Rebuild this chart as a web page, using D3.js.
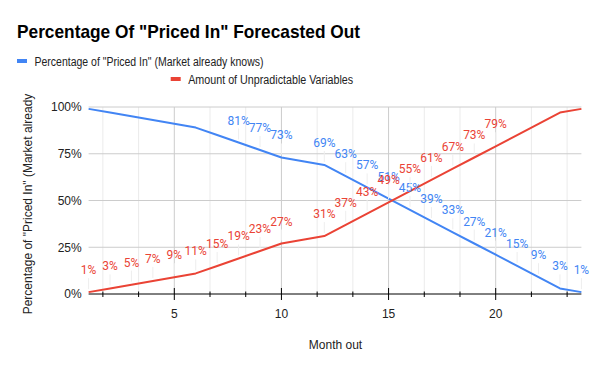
<!doctype html>
<html lang="en">
<head>
    <meta http-equiv="content-type" content="text/html; charset=utf-8" />
    <title>Percentage Of "Priced In" Forecasted Out</title>
    <style>
        body { margin: 0; background: #fff; }
        svg { display: block; font-family: Arial, "Liberation Sans", sans-serif; }
    </style>
</head>
<body>
    <svg id="chart"></svg>

    <script src="https://cdn.jsdelivr.net/npm/d3@7/dist/d3.min.js"></script>
    <script>
        // month out (x)
        const months = [1, 2, 3, 4, 5, 6, 7, 8, 9, 10, 11, 12, 13, 14, 15, 16, 17, 18, 19, 20, 21, 22, 23, 24];
        // series values, percent
        const pricedIn = [99, 97, 95, 93, 91, 89, 85, 81, 77, 73, 71, 69, 63, 57, 51, 45, 39, 33, 27, 21, 15, 9, 3, 1];
        const unpredictable = [1, 3, 5, 7, 9, 11, 15, 19, 23, 27, 29, 31, 37, 43, 49, 55, 61, 67, 73, 79, 85, 91, 97, 99];
        // months whose data label is shown in the picture
        const pricedInLabelMonths = [8, 9, 10, 12, 13, 14, 15, 16, 17, 18, 19, 20, 21, 22, 23, 24];
        const unpredictableLabelMonths = [1, 2, 3, 4, 5, 6, 7, 8, 9, 10, 12, 13, 14, 15, 16, 17, 18, 19, 20];
        const yTicks = [0, 25, 50, 75, 100];
        const xTicks = [5, 10, 15, 20];
        const seriesNames = ['Percentage of "Priced In" (Market already knows)', 'Amount of Unpradictable Variables'];

        renderChart("#chart");

        function renderChart(container) {
            const width = 600, height = 371;
            const blue = "#4285f4", red = "#ea4335";

            const svg = d3.select(container)
                .attr("width", width)
                .attr("height", height)
                .attr("viewBox", [0, 0, width, height]);

            const x = d3.scaleLinear().domain([1, 24]).range([88.6, 581.4]);
            const y = d3.scaleLinear().domain([0, 100]).range([294, 107]);

            // title
            svg.append("text")
                .attr("x", 17)
                .attr("y", 37.5)
                .attr("font-size", 19)
                .attr("font-weight", "bold")
                .attr("fill", "#000")
                .attr("textLength", 343)
                .attr("lengthAdjust", "spacingAndGlyphs")
                .text('Percentage Of "Priced In" Forecasted Out');

            // legend
            const legendPos = [{x: 17, y: 61, w: 229}, {x: 170.7, y: 79, w: 165}];
            const legend = svg.append("g")
                .selectAll("g")
                .data(seriesNames)
                .join("g")
                .attr("transform", (d, i) => `translate(${legendPos[i].x}, ${legendPos[i].y})`);
            legend.append("rect")
                .attr("x", 0).attr("y", -2)
                .attr("width", 10).attr("height", 4)
                .attr("fill", (d, i) => i === 0 ? blue : red);
            legend.append("text")
                .attr("x", 17.5)
                .attr("y", 4.5)
                .attr("font-size", 12.5)
                .attr("fill", "#222")
                .attr("textLength", (d, i) => legendPos[i].w)
                .attr("lengthAdjust", "spacingAndGlyphs")
                .text(d => d);

            // grid
            const minor = d3.range(5 / 3, 24, 5 / 3).filter(v => Math.abs(v / 5 - Math.round(v / 5)) > 0.01);
            svg.append("g")
                .selectAll("line")
                .data(minor)
                .join("line")
                .attr("x1", d => x(d)).attr("x2", d => x(d))
                .attr("y1", y(100)).attr("y2", y(0))
                .attr("stroke", "#ebebeb");
            svg.append("g")
                .selectAll("line")
                .data(xTicks)
                .join("line")
                .attr("x1", d => x(d)).attr("x2", d => x(d))
                .attr("y1", y(100)).attr("y2", y(0))
                .attr("stroke", "#cccccc");
            svg.append("g")
                .selectAll("line")
                .data(yTicks.filter(d => d > 0))
                .join("line")
                .attr("x1", x(1)).attr("x2", x(24))
                .attr("y1", d => y(d)).attr("y2", d => y(d))
                .attr("stroke", "#cccccc");

            // y axis labels
            svg.append("g")
                .selectAll("text")
                .data(yTicks)
                .join("text")
                .attr("x", 81.7)
                .attr("y", d => y(d) + 4.3)
                .attr("text-anchor", "end")
                .attr("font-size", 12)
                .attr("fill", "#222")
                .text(d => d + "%");

            svg.append("text")
                .attr("transform", "translate(31.5, 204) rotate(-90)")
                .attr("text-anchor", "middle")
                .attr("font-size", 12)
                .attr("fill", "#222")
                .text('Percentage of "Priced In" (Market already');

            // x axis
            const xAxis = svg.append("g");
            xAxis.append("line")
                .attr("x1", x(1)).attr("x2", x(24))
                .attr("y1", y(0)).attr("y2", y(0))
                .attr("stroke", "#000");
            xAxis.selectAll("line.minor")
                .data(minor)
                .join("line")
                .attr("class", "minor")
                .attr("x1", d => x(d)).attr("x2", d => x(d))
                .attr("y1", y(0) - 2.5).attr("y2", y(0) + 3)
                .attr("stroke", "#000");
            xAxis.selectAll("line.major")
                .data(xTicks)
                .join("line")
                .attr("class", "major")
                .attr("x1", d => x(d)).attr("x2", d => x(d))
                .attr("y1", y(0) - 6).attr("y2", y(0) + 6)
                .attr("stroke", "#000");
            xAxis.selectAll("text")
                .data(xTicks)
                .join("text")
                .attr("x", d => x(d))
                .attr("y", 317.5)
                .attr("text-anchor", "middle")
                .attr("font-size", 12)
                .attr("fill", "#222")
                .text(d => d);

            svg.append("text")
                .attr("x", 335.5)
                .attr("y", 348.5)
                .attr("text-anchor", "middle")
                .attr("font-size", 12)
                .attr("fill", "#222")
                .text("Month out");

            // series
            const series = [
                {values: pricedIn, labels: pricedInLabelMonths, color: blue},
                {values: unpredictable, labels: unpredictableLabelMonths, color: red}
            ];
            const line = d3.line()
                .x(d => x(d.m))
                .y(d => y(d.v));

            series.forEach(s => {
                s.points = months.map((m, i) => ({m: m, v: s.values[i]}));
                svg.append("path")
                    .datum(s.points)
                    .attr("fill", "none")
                    .attr("stroke", s.color)
                    .attr("stroke-width", 2)
                    .attr("stroke-linejoin", "round")
                    .attr("d", line);
            });

            // data labels with faint leader stems
            series.forEach(s => {
                const pts = s.points.filter(p => s.labels.includes(p.m));
                const g = svg.append("g");
                g.selectAll("line")
                    .data(pts)
                    .join("line")
                    .attr("x1", d => x(d.m)).attr("x2", d => x(d.m))
                    .attr("y1", d => y(d.v) - 14).attr("y2", d => y(d.v) - 3)
                    .attr("stroke", "#eeeeee");
                g.selectAll("text")
                    .data(pts)
                    .join("text")
                    .attr("x", d => x(d.m))
                    .attr("y", d => y(d.v) - 18)
                    .attr("text-anchor", "middle")
                    .attr("font-family", "Roboto, sans-serif")
                    .attr("font-size", 12)
                    .attr("fill", s.color)
                    .text(d => d.v + "%");
            });
        }
    </script>
</body>
</html>
